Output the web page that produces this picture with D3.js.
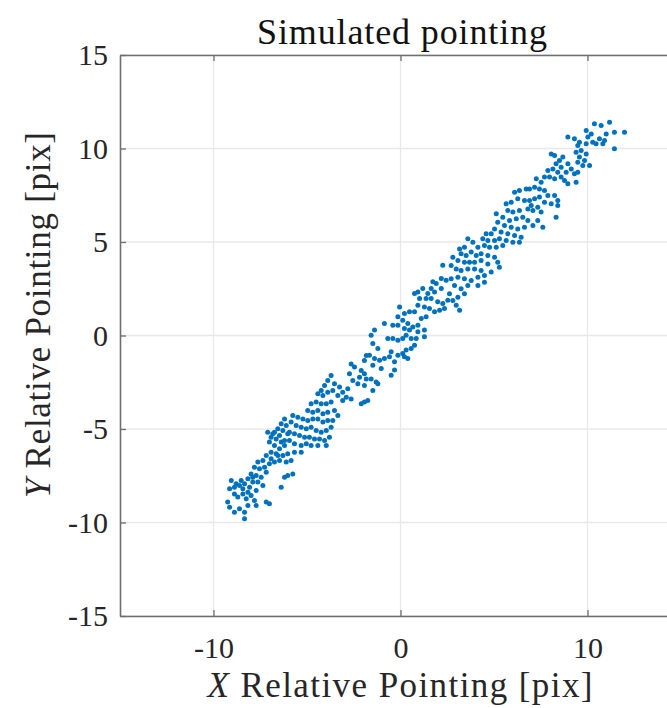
<!DOCTYPE html>
<html>
<head>
<meta charset="utf-8">
<script src="https://cdn.jsdelivr.net/npm/d3@7"></script>
<style>
  body { margin: 0; background: #fff; }
  svg { display: block; }
</style>
</head>
<body>
<svg id="chart" width="667" height="708"></svg>
<script>
// Pointing offsets in pixels: X and Y relative pointing of each simulated sample
const relX = [
  -6.20,-6.11,-6.38,-6.56,-6.74,-6.20,-6.38,-6.65,-6.92,-7.10,-7.01,-6.74,-6.47,-6.20,-6.03,-6.29,-6.65,-6.92,-7.18,-7.36,
  -7.63,-7.81,-7.54,-7.27,-7.01,-6.74,-6.47,-6.11,-7.18,-7.45,-7.72,-7.99,-8.16,-7.90,-7.63,-7.36,-8.34,-8.61,-8.88,-9.05,
  -9.14,-8.88,-8.70,-8.43,-8.25,-7.99,-7.72,-7.81,-7.72,-8.16,-8.34,-8.34,-8.61,-8.88,-9.14,-9.24,-7.01,-7.18,-6.38,-6.20,
  -6.03,-8.52,-8.07,-8.79,-8.43,-8.16,-7.90,-6.92,-6.56,-6.83,-6.47,-6.29,-6.03,-5.67,-5.31,-5.85,-5.76,
  -1.83,-1.93,-2.10,-1.93,-2.19,-1.83,-1.93,-2.28,-2.55,-2.73,-2.64,-2.46,-2.82,-2.64,-2.90,-3.09,-3.26,-3.53,-3.71,-3.89,
  -4.06,-4.24,-4.42,-4.15,-3.89,-3.62,-3.35,-3.09,-3.71,-3.97,-4.24,-4.51,-4.78,-4.96,-4.69,-4.42,-4.15,-3.89,-3.53,-3.35,
  -3.62,-3.89,-4.15,-4.42,-4.69,-4.96,-5.22,-5.49,-5.76,-5.85,-5.58,-5.31,-5.04,-4.78,-4.51,-4.24,-3.97,-3.71,-3.80,-4.06,
  -4.33,-4.60,-4.87,-5.13,-5.40,-5.67,-5.94,-5.94,-5.67,-5.31,-5.04,-4.78,-4.42,-3.97,-1.93,-2.10,-1.75,-1.30,-1.21,-1.48,
  -1.57,
  2.26,2.44,2.18,1.91,1.73,1.64,1.82,1.46,1.19,0.93,0.75,1.02,1.37,1.64,1.99,2.26,2.53,2.18,2.35,2.09,
  1.82,1.55,1.28,0.93,0.75,0.48,0.21,-0.05,-0.14,0.12,0.39,0.66,0.93,1.11,1.37,1.28,0.93,0.48,0.21,-0.14,
  -0.41,-0.86,-1.39,-1.57,-1.48,-1.21,-0.68,-0.41,-0.14,0.12,0.30,0.57,0.75,0.57,0.30,0.12,-0.14,-0.50,-0.59,-0.86,
  -1.12,-1.39,-1.66,-1.48,-1.03,-0.32,-0.32,-0.50,0.21,0.39,0.84,1.28,3.16,2.98,
  6.10,6.36,6.72,6.63,6.27,5.92,5.65,5.74,6.01,6.36,6.81,6.81,6.54,6.19,5.83,5.47,5.12,5.20,5.56,5.92,
  6.27,6.63,6.45,6.10,5.74,5.38,5.03,4.85,4.58,4.40,4.67,5.03,5.29,5.65,6.01,6.36,5.47,5.12,4.76,4.49,
  4.14,3.87,3.60,3.42,3.16,3.24,3.51,3.78,4.05,4.31,4.67,5.03,5.20,5.29,4.67,4.31,3.96,3.69,3.42,3.07,
  2.80,2.71,2.98,3.24,3.60,3.96,4.31,4.85,4.49,4.14,3.78,3.42,3.07,2.71,2.89,3.24,3.60,4.14,4.49,3.42,
  3.07,2.80,2.62,
  10.37,10.73,11.18,11.44,11.98,11.00,10.91,10.64,10.20,9.93,10.02,10.28,10.46,10.82,11.44,9.93,9.57,9.30,8.95,9.48,
  9.66,9.39,9.93,9.57,9.84,10.11,9.75,9.48,9.30,9.13,8.95,8.68,8.50,8.24,8.06,8.32,8.59,8.86,8.41,8.59,
  8.77,8.95,8.24,7.97,8.15,7.88,7.70,7.26,7.52,7.17,6.90,7.43,7.70,7.88,8.24,8.41,8.41,8.06,7.70,7.43,
  7.17,6.90,6.99,7.34,7.08,7.52,8.32,7.34,7.61,7.08,9.39,9.48
];
const relY = [
  -4.46,-4.81,-4.72,-4.99,-5.17,-5.61,-5.70,-5.53,-5.44,-5.17,-5.70,-5.88,-6.06,-5.88,-6.33,-6.42,-6.33,-6.24,-6.42,-6.68,
  -6.77,-7.04,-7.13,-7.04,-6.86,-6.77,-6.68,-6.77,-7.31,-7.58,-7.49,-7.40,-7.66,-7.84,-7.84,-8.02,-7.93,-8.02,-8.11,-7.75,
  -8.20,-8.47,-8.64,-8.47,-8.73,-8.56,-8.29,-8.82,-9.09,-9.09,-9.45,-9.80,-9.27,-9.45,-9.18,-8.91,-9.00,-8.91,-8.11,-7.58,
  -7.49,-7.75,-8.11,-7.93,-8.20,-8.38,-7.58,-6.59,-6.42,-5.26,-5.35,-5.08,-5.26,-6.24,-6.24,-6.68,-7.40,
  -1.07,-1.34,-1.87,-2.05,-2.23,-2.32,-2.67,-2.58,-2.41,-2.05,-1.52,-1.69,-2.85,-3.39,-3.30,-3.03,-2.76,-2.58,-2.14,-2.41,
  -2.67,-2.94,-3.12,-3.21,-3.03,-2.94,-3.21,-3.48,-3.56,-3.65,-3.65,-3.56,-3.65,-4.01,-4.10,-4.01,-4.19,-4.10,-4.01,-4.28,
  -4.55,-4.55,-4.63,-4.46,-4.46,-4.55,-4.46,-4.37,-4.28,-4.63,-4.81,-4.90,-4.99,-4.90,-5.08,-5.17,-5.08,-4.90,-5.44,-5.61,
  -5.53,-5.53,-5.44,-5.44,-5.35,-5.26,-5.17,-5.61,-5.79,-5.88,-5.79,-5.88,-5.88,-5.88,-3.56,-3.65,-3.48,-2.49,-2.58,-2.94,
  -2.32,
  3.76,2.96,3.05,2.78,2.87,2.51,2.33,2.25,2.51,2.33,2.25,1.98,1.98,1.98,1.80,1.71,1.89,2.51,1.44,1.35,
  1.27,1.44,1.53,1.62,1.27,1.27,1.18,1.53,1.00,0.82,0.64,0.46,0.55,0.91,1.00,0.29,0.20,0.29,0.37,0.55,
  0.55,0.64,0.29,0.02,-0.43,-0.70,-0.16,-0.16,-0.25,-0.16,0.02,-0.16,-0.52,-0.70,-0.78,-0.96,-1.05,-0.87,-1.14,-1.23,
  -1.32,-1.23,-1.05,-1.59,-1.76,-1.41,-1.85,-2.12,-1.14,-1.23,-0.16,-0.07,1.35,1.62,
  7.66,7.75,7.84,7.22,7.31,7.13,7.04,6.68,6.60,6.68,6.77,6.15,6.33,6.24,6.15,6.33,6.51,6.06,5.88,5.79,
  5.70,5.79,5.26,5.35,5.44,5.53,5.70,5.44,5.44,5.17,5.08,5.08,5.17,5.08,4.99,4.99,4.81,4.72,4.72,4.81,
  4.72,4.99,5.17,4.72,4.63,4.37,4.28,4.46,4.28,4.37,4.28,4.19,3.92,3.65,3.83,4.01,3.92,3.92,3.92,4.01,
  4.19,3.74,3.56,3.48,3.56,3.56,3.48,3.39,3.21,3.12,2.94,3.03,3.12,3.03,2.67,2.50,2.67,2.67,2.85,2.23,
  2.05,1.87,2.23,
  11.32,11.23,11.41,10.87,10.87,10.78,10.43,10.52,10.78,10.96,10.61,10.34,10.25,10.25,9.98,10.25,10.34,10.52,10.61,10.16,
  9.89,9.80,9.71,9.54,9.36,9.09,9.09,9.27,8.65,8.91,9.18,9.54,9.36,9.63,9.71,9.18,9.00,8.73,8.73,8.47,
  8.29,8.11,8.38,8.47,8.91,8.82,8.47,8.38,8.20,7.93,7.84,7.84,7.75,7.49,7.49,7.22,6.95,7.04,7.13,7.40,
  7.31,7.22,6.95,6.86,6.68,6.60,6.33,6.15,5.79,5.88,8.20,8.73
];

const xTickValues = [-10, 0, 10];
const yTickValues = [-15, -10, -5, 0, 5, 10, 15];
const titleText = "Simulated pointing";
const xLabelText = "Relative Pointing [pix]";
const yLabelText = "Relative Pointing [pix]";

const svg = d3.select("#chart");
const serif = "Liberation Serif, serif";

// Equal-aspect axes, [-15, 15] on both sides
const x = d3.scaleLinear().domain([-15, 15]).range([120, 681]);
const y = d3.scaleLinear().domain([-15, 15]).range([616, 55]);

// Grid
const grid = svg.append("g").attr("stroke", "#e8e8e8").attr("stroke-width", 1.3);
grid.selectAll("line.gx").data(xTickValues).join("line").attr("class", "gx")
  .attr("x1", d => x(d)).attr("x2", d => x(d))
  .attr("y1", y(-15)).attr("y2", y(15));
grid.selectAll("line.gy").data(yTickValues).join("line").attr("class", "gy")
  .attr("x1", x(-15)).attr("x2", x(15))
  .attr("y1", d => y(d)).attr("y2", d => y(d));

// Scatter
const pts = relX.map((v, i) => [v, relY[i]]);
svg.append("g").selectAll("circle").data(pts).join("circle")
  .attr("cx", d => x(d[0]))
  .attr("cy", d => y(d[1]))
  .attr("r", 2.5)
  .attr("fill", "#0072BD");

// Axes with inward ticks, plain hyphen for negatives
const fmt = d => String(d);
function styleAxis(g) {
  g.select(".domain").attr("stroke", "#6e6e6e").attr("stroke-width", 1.6).attr("fill", "none");
  g.selectAll(".tick line").attr("stroke", "#6e6e6e").attr("stroke-width", 1.3);
  g.selectAll(".tick text").attr("font-size", 30).attr("fill", "#262626").attr("font-family", serif);
}

svg.append("g").attr("transform", `translate(0,${y(-15)})`)
  .call(d3.axisBottom(x).tickValues(xTickValues).tickSize(-6).tickSizeOuter(0).tickPadding(21).tickFormat(fmt))
  .call(styleAxis);

svg.append("g").attr("transform", `translate(0,${y(15)})`)
  .call(d3.axisTop(x).tickValues(xTickValues).tickSize(-6).tickSizeOuter(0).tickFormat(""))
  .call(styleAxis);

svg.append("g").attr("transform", `translate(${x(-15)},0)`)
  .call(d3.axisLeft(y).tickValues(yTickValues).tickSize(-6).tickSizeOuter(0).tickPadding(12).tickFormat(fmt))
  .call(styleAxis);

// Title
svg.append("text")
  .attr("x", 402).attr("y", 44)
  .attr("text-anchor", "middle")
  .attr("font-family", serif).attr("font-size", 36)
  .attr("fill", "#111")
  .attr("textLength", 290).attr("lengthAdjust", "spacing")
  .text(titleText);

// X label
const xl = svg.append("text")
  .attr("x", 400).attr("y", 697)
  .attr("text-anchor", "middle")
  .attr("font-family", serif).attr("font-size", 35)
  .attr("fill", "#262626")
  .attr("textLength", 385).attr("lengthAdjust", "spacing");
xl.append("tspan").attr("font-style", "italic").text("X");
xl.append("tspan").text(" " + xLabelText);

// Y label
const yl = svg.append("text")
  .attr("transform", "translate(50,315) rotate(-90)")
  .attr("text-anchor", "middle")
  .attr("font-family", serif).attr("font-size", 35)
  .attr("fill", "#262626")
  .attr("textLength", 366).attr("lengthAdjust", "spacing");
yl.append("tspan").attr("font-style", "italic").text("Y");
yl.append("tspan").text(" " + yLabelText);
</script>
</body>
</html>
